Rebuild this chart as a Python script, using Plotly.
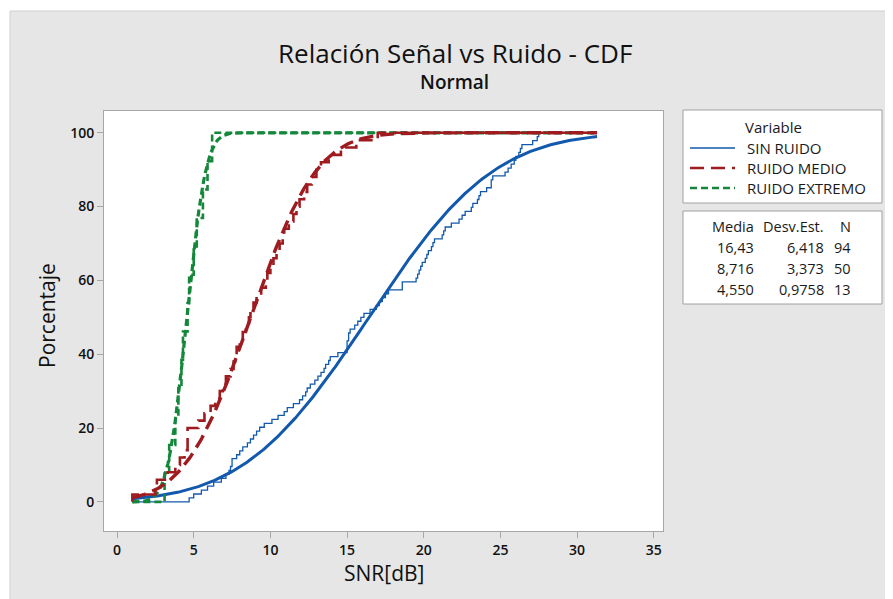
import math
import plotly.graph_objects as go

# ---------------- data ----------------
series_names = ["SIN RUIDO", "RUIDO MEDIO", "RUIDO EXTREMO"]
series_colors = ["#1259AD", "#9E1B20", "#14873A"]

# sorted observations (estimated from the empirical step curves)
sin_ruido = [4.7, 5.0, 5.5, 5.9, 6.3, 6.8, 7.1, 7.3, 7.4, 7.5,
             7.5, 7.8, 8.0, 8.2, 8.5, 8.7, 8.9, 9.1, 9.3, 9.6,
             10.1, 10.5, 10.9, 11.1, 11.5, 11.9, 12.1, 12.3, 12.4, 12.6,
             12.9, 13.1, 13.3, 13.5, 13.6, 13.8, 13.9, 14.4, 15.0, 15.0,
             15.0, 15.1, 15.1, 15.2, 15.5, 15.7, 15.9, 16.1, 16.5, 16.9,
             17.1, 17.3, 17.5, 17.7, 18.6, 18.6, 19.5, 19.6, 19.7, 19.8,
             19.9, 20.1, 20.2, 20.3, 20.5, 20.6, 20.7, 21.2, 21.3, 21.4,
             21.8, 22.3, 22.5, 22.7, 23.1, 23.2, 23.5, 23.6, 23.7, 24.1,
             24.4, 24.4, 24.5, 25.3, 25.5, 25.7, 25.9, 26.0, 26.2, 26.3,
             26.4, 27.1, 27.4, 27.5]
ruido_medio = [1.0, 2.5, 2.6, 3.3, 3.8, 4.1, 4.4, 4.6, 4.6, 4.6,
               5.3, 5.7, 6.1, 6.4, 6.7, 6.9, 7.1, 7.4, 7.6, 7.7,
               7.8, 8.0, 8.2, 8.4, 8.6, 8.7, 8.9, 9.1, 9.4, 9.7,
               9.8, 10.0, 10.2, 10.4, 10.6, 10.8, 10.9, 11.2, 11.5, 11.7,
               11.9, 12.2, 12.4, 12.7, 13.0, 13.3, 13.8, 14.6, 15.6, 17.0]
ruido_extremo = [3.1, 3.4, 3.8, 4.0, 4.2, 4.3, 4.6, 4.7, 5.0, 5.2,
                 5.6, 5.9, 6.2]

# summary table shown in the chart
media = [16.43, 8.716, 4.550]
desv_est = [6.418, 3.373, 0.9758]
n_obs = [94, 50, 13]
media_txt = ["16,43", "8,716", "4,550"]
desv_txt = ["6,418", "3,373", "0,9758"]

line_x_range = [1.0, 31.3]   # span of the drawn curves

x_ticks = [0, 5, 10, 15, 20, 25, 30, 35]
y_ticks = [0, 20, 40, 60, 80, 100]

# ---------------- layout geometry (page pixels) ----------------
OFF = 8                      # browser body margin
PAGE_W, PAGE_H = 893, 599
W, H = PAGE_W - OFF, PAGE_H - OFF
PL, PR, PT, PB = 104, 663, 111, 531   # plot area in page pixels


def fx(px):
    return (px - PL) / (PR - PL)


def fy(py):
    return (PB - py) / (PB - PT)


def norm_cdf(x, mu, sd):
    return 50.0 * (1.0 + math.erf((x - mu) / (sd * math.sqrt(2.0))))


fig = go.Figure()

styles = [
    dict(dash="solid", emp_w=1.3, fit_w=3.0),
    dict(dash="14px,7px", emp_w=2.6, fit_w=3.4),
    dict(dash="7px,4px", emp_w=2.6, fit_w=3.2),
]
datasets = [sin_ruido, ruido_medio, ruido_extremo]

draw_order = [0, 2, 1]
x_lo, x_hi = line_x_range
for k in draw_order:
    data = sorted(datasets[k])
    n = len(data)
    ex = [x_lo] + data + [x_hi]
    ey = [0.0] + [100.0 * (i + 1) / n for i in range(n)] + [100.0]
    st = styles[k]
    fig.add_trace(go.Scatter(
        x=ex, y=ey, mode="lines", line_shape="hv",
        line=dict(color=series_colors[k], width=st["emp_w"], dash=st["dash"]),
        showlegend=False, hoverinfo="skip"))
    steps = 300
    fxs = [x_lo + (x_hi - x_lo) * i / steps for i in range(steps + 1)]
    fys = [norm_cdf(v, media[k], desv_est[k]) for v in fxs]
    fig.add_trace(go.Scatter(
        x=fxs, y=fys, mode="lines",
        line=dict(color=series_colors[k], width=st["fit_w"], dash=st["dash"]),
        showlegend=False, hoverinfo="skip"))

FONT = "Open Sans, Noto Sans, DejaVu Sans, sans-serif"
TXT = "#1a1a1a"

shapes = []
annotations = []

# white outer strips (top and left) and the thin border of the gray panel
shapes.append(dict(type="rect", xref="paper", yref="paper",
                   x0=fx(0), x1=fx(PAGE_W + 5), y0=fy(11), y1=fy(0),
                   fillcolor="white", line=dict(width=0), layer="below"))
shapes.append(dict(type="rect", xref="paper", yref="paper",
                   x0=fx(0), x1=fx(10), y0=fy(PAGE_H + 5), y1=fy(0),
                   fillcolor="white", line=dict(width=0), layer="below"))
shapes.append(dict(type="line", xref="paper", yref="paper",
                   x0=fx(10), x1=fx(PAGE_W + 5), y0=fy(11), y1=fy(11),
                   line=dict(color="#cfcfcf", width=1)))
shapes.append(dict(type="line", xref="paper", yref="paper",
                   x0=fx(10), x1=fx(10), y0=fy(PAGE_H + 5), y1=fy(11),
                   line=dict(color="#cfcfcf", width=1)))

# legend boxes
for (y0, y1) in [(110, 203), (211, 304)]:
    shapes.append(dict(type="rect", xref="paper", yref="paper",
                       x0=fx(683), x1=fx(882), y0=fy(y1), y1=fy(y0),
                       fillcolor="white", line=dict(color="#a0a0a0", width=1)))

annotations.append(dict(x=fx(773), y=fy(127), xref="paper", yref="paper",
                        text="Variable", showarrow=False,
                        font=dict(family=FONT, size=15, color=TXT),
                        xanchor="center", yanchor="middle"))
legend_rows = [148, 168, 188]
legend_w = [1.6, 2.4, 2.4]
for k in range(3):
    yy = fy(legend_rows[k])
    shapes.append(dict(type="line", xref="paper", yref="paper",
                       x0=fx(690), x1=fx(735), y0=yy, y1=yy,
                       line=dict(color=series_colors[k], width=legend_w[k],
                                 dash=styles[k]["dash"])))
    annotations.append(dict(x=fx(745), y=yy, xref="paper", yref="paper",
                            text=series_names[k], showarrow=False,
                            font=dict(family=FONT, size=15, color=TXT),
                            xanchor="left", yanchor="middle"))

# statistics table
col_right = [756, 826, 853]
headers = ["Media", "Desv.Est.", "N"]
for c in range(3):
    annotations.append(dict(x=fx(col_right[c]), y=fy(226), xref="paper",
                            yref="paper", text=headers[c], showarrow=False,
                            font=dict(family=FONT, size=14.5, color=TXT),
                            xanchor="right", yanchor="middle"))
table_rows = [248, 268, 289]
for k in range(3):
    vals = [media_txt[k], desv_txt[k], str(n_obs[k])]
    for c in range(3):
        annotations.append(dict(x=fx(col_right[c]), y=fy(table_rows[k]),
                                xref="paper", yref="paper", text=vals[c],
                                showarrow=False,
                                font=dict(family=FONT, size=14.5, color=TXT),
                                xanchor="right", yanchor="middle"))

# titles
annotations.append(dict(x=fx(455), y=fy(53), xref="paper", yref="paper",
                        text="Relación Señal vs Ruido - CDF", showarrow=False,
                        font=dict(family=FONT, size=26, color="#111111"),
                        xanchor="center", yanchor="middle"))
annotations.append(dict(x=fx(454), y=fy(82), xref="paper", yref="paper",
                        text="Normal", showarrow=False,
                        font=dict(family=FONT, size=19, color="#111111",
                                  weight=600),
                        xanchor="center", yanchor="middle"))
# axis titles
annotations.append(dict(x=fx(384), y=fy(573), xref="paper", yref="paper",
                        text="SNR[dB]", showarrow=False,
                        font=dict(family=FONT, size=21, color="#111111"),
                        xanchor="center", yanchor="middle"))
annotations.append(dict(x=fx(47), y=fy(316), xref="paper", yref="paper",
                        text="Porcentaje", showarrow=False, textangle=-90,
                        font=dict(family=FONT, size=21, color="#111111"),
                        xanchor="center", yanchor="middle"))

axis_common = dict(showgrid=False, zeroline=False, showline=True,
                   linecolor="#a6a6a6", linewidth=1, mirror=True,
                   ticks="outside", ticklen=6, tickcolor="#a6a6a6",
                   tickfont=dict(family=FONT, size=14, color="#111111",
                                 weight=600))

fig.update_layout(
    width=W, height=H,
    margin=dict(l=PL - OFF, r=PAGE_W - PR, t=PT - OFF, b=PAGE_H - PB, pad=0),
    paper_bgcolor="#e6e6e6", plot_bgcolor="white",
    showlegend=False,
    shapes=shapes, annotations=annotations,
    xaxis=dict(range=[-0.85, 35.6], tickvals=x_ticks,
               ticktext=[str(v) for v in x_ticks], **axis_common),
    yaxis=dict(range=[-7.9, 105.9], tickvals=y_ticks,
               ticktext=[str(v) for v in y_ticks], **axis_common),
)

fig.write_html("out.html")
